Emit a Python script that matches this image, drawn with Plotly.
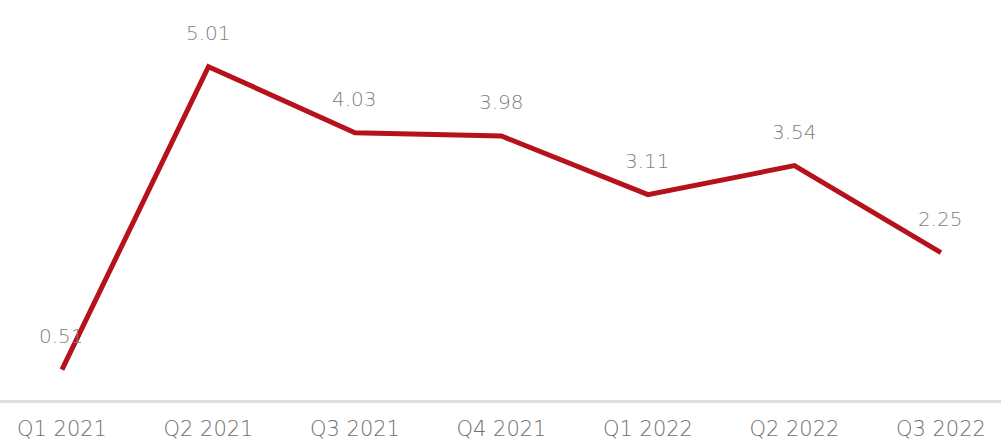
import plotly.graph_objects as go

quarters = ["Q1 2021", "Q2 2021", "Q3 2021", "Q4 2021", "Q1 2022", "Q2 2022", "Q3 2022"]
values = [0.51, 5.01, 4.03, 3.98, 3.11, 3.54, 2.25]
labels = ["0.51", "5.01", "4.03", "3.98", "3.11", "3.54", "2.25"]

FONT = "DejaVu Sans, Verdana, sans-serif"

fig = go.Figure()
fig.add_trace(go.Scatter(
    x=quarters, y=values, mode="lines",
    line=dict(color="#B5121B", width=5),
    hoverinfo="skip",
))

for q, v, t in zip(quarters, values, labels):
    fig.add_annotation(
        x=q, y=v, text=t, showarrow=False, yshift=34,
        font=dict(family=FONT, size=20, color="#808080", weight=300),
    )

fig.update_layout(
    width=1001, height=440,
    margin=dict(l=0, r=0, t=0, b=40),
    paper_bgcolor="white", plot_bgcolor="white",
    showlegend=False,
    xaxis=dict(
        type="category", range=[-0.423, 6.41],
        showgrid=False, zeroline=False,
        showline=True, linecolor="#dddddd", linewidth=3,
        ticks="", ticklen=0, ticklabelstandoff=8,
        tickfont=dict(family=FONT, size=21, color="#707070", weight=300),
    ),
    yaxis=dict(
        range=[0.06, 6.0], visible=False, showgrid=False, zeroline=False,
    ),
)

fig.write_html("out.html")
